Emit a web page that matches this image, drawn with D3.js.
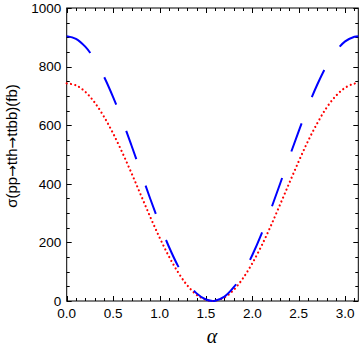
<!DOCTYPE html>
<html><head><meta charset="utf-8">
<script src="https://cdn.jsdelivr.net/npm/d3@7"></script>
<style>body{margin:0;background:#fff}svg{display:block}</style>
</head><body><svg id="c" width="360" height="349"></svg>
<script>
// alpha values (rad)
const alpha = [0,0.1,0.2,0.3,0.4,0.5,0.6,0.7,0.8,0.9,1.0,1.1,1.2,1.3,1.4,1.5,1.5708,
  1.6,1.7,1.8,1.9,2.0,2.1,2.2,2.3,2.4,2.5,2.6,2.7,2.8,2.9,3.0,3.1,3.1416];
// blue dashed curve (fb)
const sigmaBlue = [904,895,868,825,767,696,616,529,439,349,264,186,119,65,26,5,0,
  1,15,47,94,157,230,313,401,492,580,664,739,803,852,886,902,904];
// red dotted curve (fb)
const sigmaRed = [743,736,714,678,630,572,506,435,361,287,217,153,98,53,21,4,0,
  1,12,38,78,129,189,257,330,404,477,546,607,660,700,728,742,743];
const xTickLabels = ["0.0","0.5","1.0","1.5","2.0","2.5","3.0"];
const xTickValues = [0,0.5,1,1.5,2,2.5,3];
const yTickValues = [0,200,400,600,800,1000];
const titleParts = ["σ(pp", "→", "tth", "→", "ttbb)(fb)"];
const splitIndex = 16; // alpha = pi/2

const svg = d3.select("#c");
const L = 66.7, R = 358.3, T = 8, B = 301;
const x = d3.scaleLinear().domain([0, Math.PI]).range([L, R]);
const y = d3.scaleLinear().domain([0, 1000]).range([B, T]);

const font = "'Liberation Sans', Arial, sans-serif";

// minor ticks
const xMinor = d3.range(0, 3.15, 0.1).map(v => +v.toFixed(1));
const yMinor = d3.range(0, 1001, 50);

const g = svg.append("g");
function tick(x1,y1,x2,y2){ g.append("line").attr("x1",x1).attr("y1",y1).attr("x2",x2).attr("y2",y2).attr("stroke","#000").attr("stroke-width",1); }
xMinor.forEach(v => {
  const major = Math.abs(v*2 - Math.round(v*2)) < 1e-6;
  const len = major ? 5 : 3;
  const px = Math.round(x(v)) + 0.5;
  tick(px, B, px, B - len);
  tick(px, T, px, T + len);
});
yMinor.forEach(v => {
  const major = v % 200 === 0;
  const len = major ? 5 : 3;
  const py = Math.round(y(v)) + 0.5;
  tick(L, py, L + len, py);
  tick(R, py, R - len, py);
});
// frame
svg.append("rect").attr("x", L).attr("y", T).attr("width", R - L).attr("height", B - T)
  .attr("fill", "none").attr("stroke", "#000").attr("stroke-width", 1);

// tick labels
svg.append("g").selectAll("text").data(xTickValues).join("text")
  .attr("x", d => x(d)).attr("y", 317.5).attr("text-anchor", "middle")
  .attr("font-family", font).attr("font-size", 13.5).attr("fill", "#000")
  .text((d,i) => xTickLabels[i]);
svg.append("g").selectAll("text").data(yTickValues).join("text")
  .attr("x", L - 5.5).attr("y", d => y(d)).attr("dy", "0.35em").attr("text-anchor", "end")
  .attr("font-family", font).attr("font-size", 13.5).attr("fill", "#000")
  .text(d => d);

// axis titles
svg.append("text").attr("x", 212).attr("y", 343).attr("text-anchor", "middle")
  .attr("font-family", "'Liberation Serif', 'Times New Roman', serif").attr("font-style", "italic")
  .attr("font-size", 20).text("α");
const yt = svg.append("text").attr("transform", "translate(16.5,146) rotate(-90)").attr("text-anchor", "middle")
  .attr("font-family", font).attr("font-size", 15);
titleParts.forEach(p => {
  const ts = yt.append("tspan").text(p);
  if (p === "→") ts.attr("font-family", "'DejaVu Sans', sans-serif").attr("font-size", 14);
});

// curves
const idx = d3.range(alpha.length);
const lineB = d3.line().x(i => x(alpha[i])).y(i => y(sigmaBlue[i])).curve(d3.curveCatmullRom);
const lineR = d3.line().x(i => x(alpha[i])).y(i => y(sigmaRed[i])).curve(d3.curveCatmullRom);

svg.append("path").attr("d", lineR(idx)).attr("fill", "none").attr("stroke", "#ff0000")
  .attr("stroke-width", 2.2).attr("stroke-linecap", "round").attr("stroke-dasharray", "0.01,4.3");

[idx.slice(0, splitIndex + 1), idx.slice(splitIndex)].forEach(part => {
  svg.append("path").attr("d", lineB(part)).attr("fill", "none").attr("stroke", "#0000ff")
    .attr("stroke-width", 2).attr("stroke-dasharray", "30,28");
});
</script></body></html>
